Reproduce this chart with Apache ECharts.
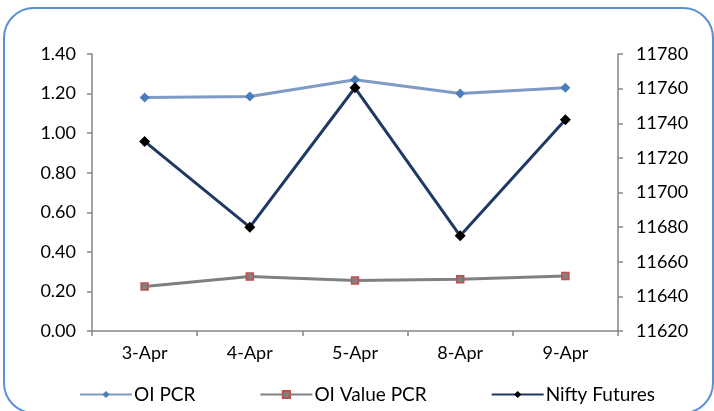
<!DOCTYPE html>
<html>
<head>
<meta charset="utf-8">
<script src="https://cdn.jsdelivr.net/npm/echarts@6/dist/echarts.min.js"></script>
<style>
html,body{margin:0;padding:0;background:#fff;}
#c{width:714px;height:411px;}
</style>
</head>
<body>
<div id="c"></div>
<script>
const categories = ['3-Apr', '4-Apr', '5-Apr', '8-Apr', '9-Apr'];
const oiPcr = [1.18, 1.185, 1.27, 1.20, 1.23];
const oiValuePcr = [0.225, 0.275, 0.255, 0.262, 0.278];
const niftyFutures = [11729.5, 11680, 11760.5, 11675, 11742];
const leftTicks = { min: 0, max: 1.4, interval: 0.2 };
const rightTicks = { min: 11620, max: 11780, interval: 20 };

const FONT = 'Lato';
const axisColor = '#868686';
const chart = echarts.init(document.getElementById('c'));
chart.setOption({
  backgroundColor: '#fff',
  animation: false,
  textStyle: { fontFamily: FONT },
  graphic: [{
    type: 'rect',
    shape: { x: 4, y: 8, width: 709, height: 405, r: 30 },
    style: { fill: 'none', stroke: '#5b8fd6', lineWidth: 2 },
    silent: true
  }],
  grid: { left: 92, right: 96, top: 54, bottom: 80 },
  legend: {
    left: 74, top: 380,
    itemWidth: 52, itemHeight: 9, itemGap: 64,
    textStyle: { fontFamily: FONT, fontSize: 19, color: '#000', padding: [0, 0, 0, -3] },
    data: ['OI PCR', 'OI Value PCR', 'Nifty Futures']
  },
  xAxis: {
    type: 'category',
    data: categories,
    boundaryGap: true,
    axisLine: { lineStyle: { color: axisColor, width: 1.5 } },
    axisTick: { show: true, length: 5, lineStyle: { color: axisColor, width: 1.5 } },
    axisLabel: { color: '#000', fontSize: 18, fontFamily: FONT, margin: 13 }
  },
  yAxis: [{
    type: 'value',
    min: leftTicks.min, max: leftTicks.max, interval: leftTicks.interval,
    splitLine: { show: false },
    axisLine: { show: true, lineStyle: { color: axisColor, width: 1.5 } },
    axisTick: { show: true, length: 5, lineStyle: { color: axisColor, width: 1.5 } },
    axisLabel: { color: '#000', fontSize: 18, fontFamily: FONT, margin: 16,
      formatter: v => v.toFixed(2) }
  }, {
    type: 'value',
    position: 'right',
    min: rightTicks.min, max: rightTicks.max, interval: rightTicks.interval,
    splitLine: { show: false },
    axisLine: { show: true, lineStyle: { color: axisColor, width: 1.5 } },
    axisTick: { show: true, length: 5, lineStyle: { color: axisColor, width: 1.5 } },
    axisLabel: { color: '#000', fontSize: 18, fontFamily: FONT, margin: 18,
      formatter: v => String(v) }
  }],
  series: [{
    name: 'OI PCR',
    type: 'line',
    yAxisIndex: 0,
    data: oiPcr,
    symbol: 'diamond',
    symbolSize: 10,
    lineStyle: { color: '#7f9ac4', width: 3 },
    itemStyle: { color: '#4a7ebb' }
  }, {
    name: 'OI Value PCR',
    type: 'line',
    yAxisIndex: 0,
    data: oiValuePcr,
    symbol: 'rect',
    symbolSize: 7,
    lineStyle: { color: '#808080', width: 3 },
    itemStyle: { color: '#808080', borderColor: '#c0504d', borderWidth: 1.5 }
  }, {
    name: 'Nifty Futures',
    type: 'line',
    yAxisIndex: 1,
    data: niftyFutures,
    symbol: 'diamond',
    symbolSize: 11,
    lineStyle: { color: '#1f3864', width: 3 },
    itemStyle: { color: '#000' }
  }]
});
</script>
</body>
</html>
